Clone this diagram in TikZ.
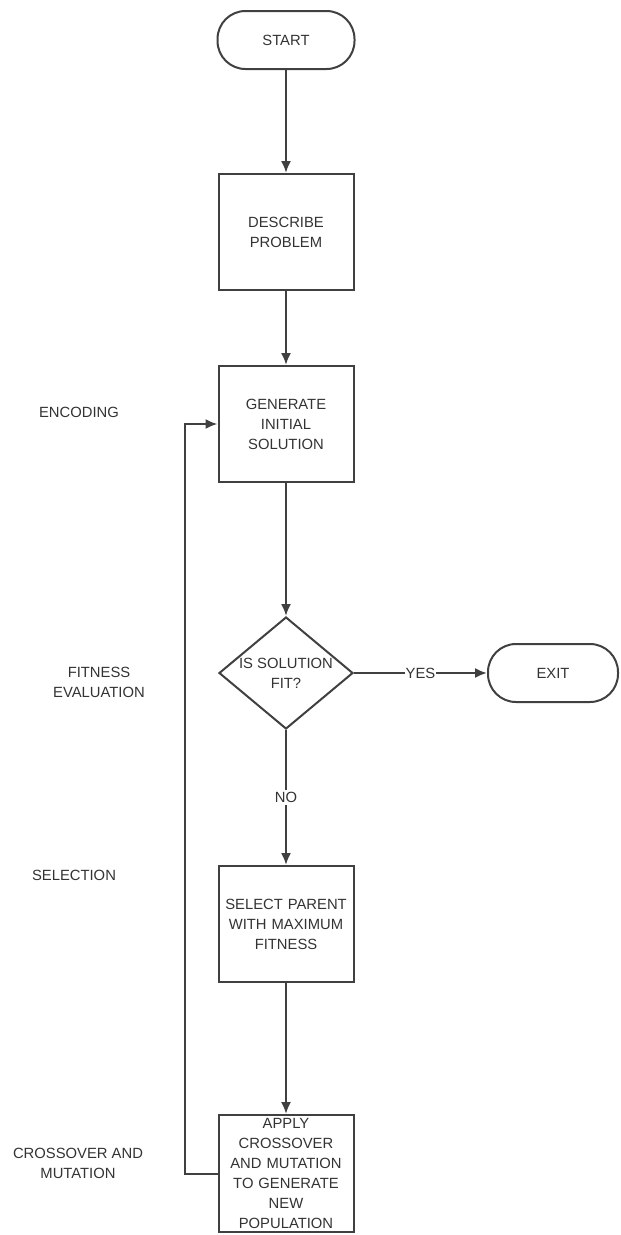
\documentclass[tikz,border=0pt]{standalone}
\usepackage{fontspec}
\setmainfont{Liberation Sans}
\usepackage{xcolor}
\usepackage{tikz}
\usetikzlibrary{arrows.meta,shapes.geometric}
\tikzstyle{terminal}=[rectangle,rounded corners=28pt,draw=black!75,line width=2pt,minimum width=137pt,minimum height=58pt,inner sep=0pt,text=black!80]
\tikzstyle{process}=[rectangle,draw=black!75,line width=2pt,minimum width=135pt,minimum height=116pt,inner sep=0pt,text width=130pt,align=center,text=black!80]
\tikzstyle{decision}=[diamond,draw=black!75,line width=2pt,minimum width=134pt,minimum height=112pt,inner sep=0pt]
\tikzstyle{phase}=[align=center,text=black!80]
\tikzstyle{flow}=[->,draw=black!75,line width=2pt]

\begin{document}
\begin{tikzpicture}[x=1pt,y=-1pt,>={Latex[length=12pt,width=10pt]},font=\fontsize{14.8}{20}\selectfont]
        \useasboundingbox (0,0) rectangle (621,1235);

        \node at (286,40)    [terminal] (start)    {START};
        \node at (286,232)   [process]  (describe) {DESCRIBE\\PROBLEM};
        \node at (286,424)   [process]  (generate) {GENERATE\\INITIAL\\SOLUTION};
        \node at (286,673)   [decision,label={[phase]center:IS SOLUTION\\FIT?}] (fit) {};
        \node at (553,673)   [terminal,minimum width=130pt] (exit) {EXIT};
        \node at (286,924)   [process]  (select)   {SELECT PARENT\\WITH MAXIMUM\\FITNESS};
        \node at (286,1173.5) [process,minimum height=117pt] (apply) {APPLY\\CROSSOVER\\AND MUTATION\\TO GENERATE\\NEW\\POPULATION};

        \node at (79,412)  [phase] (encoding)  {ENCODING};
        \node at (99,682)  [phase] (fitness)   {FITNESS\\EVALUATION};
        \node at (74,875)  [phase] (selection) {SELECTION};
        \node at (78,1163) [phase] (crossover) {CROSSOVER AND\\MUTATION};

        \coordinate (back) at (185,1173.5);

        \draw [flow] (start) -- (describe);
        \draw [flow] (describe) -- (generate);
        \draw [flow] (generate) -- (fit);
        \draw [flow] (fit.east) -- node[fill=white,inner sep=1pt,text=black!80] {YES} (exit.west);
        \draw [flow] (fit.south) -- node[fill=white,inner sep=2pt,text=black!80] {NO} (select.north);
        \draw [flow] (select) -- (apply);
        \draw [flow] (apply.west) -- (back) |- (generate.west);
      \end{tikzpicture}
\end{document}
